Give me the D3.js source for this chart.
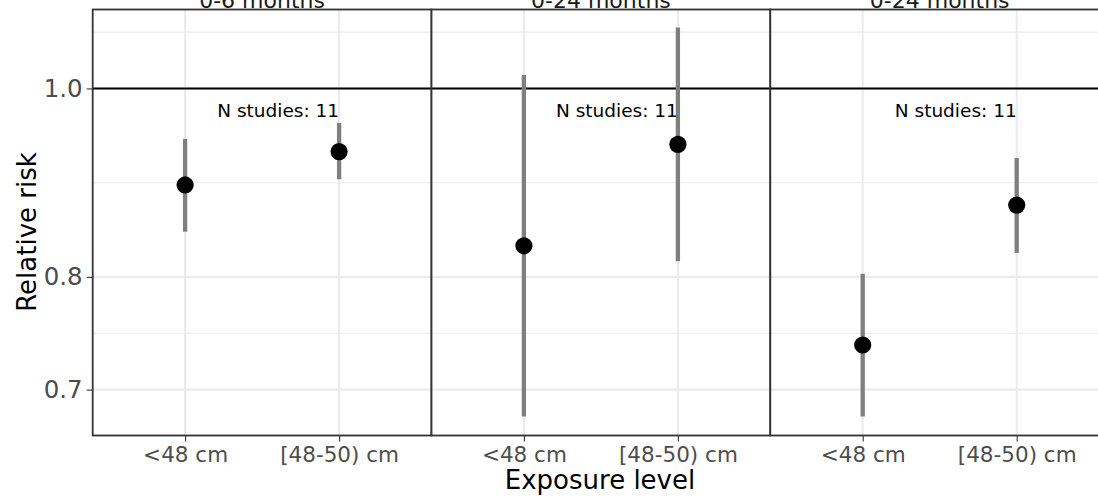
<!DOCTYPE html>
<html>
<head>
<meta charset="utf-8">
<script src="https://cdn.jsdelivr.net/npm/d3@7"></script>
<style>
  html, body { margin: 0; padding: 0; background: #fff; }
  svg { display: block; font-family: "DejaVu Sans", sans-serif; }
</style>
</head>
<body>
<svg id="chart" width="1098" height="498"></svg>
<script>
// ---- data ----
const facets = ["0-6 months", "0-24 months (a)", "0-24 months (b)"];
const facetLabels = ["0-6 months", "0-24 months", "0-24 months"];
const categories = ["<48 cm", "[48-50) cm"];
const estimates = [[0.892, 0.928], [0.830, 0.936], [0.738, 0.871]];
const lowerCI   = [[0.844, 0.898], [0.678, 0.815], [0.678, 0.823]];
const upperCI   = [[0.942, 0.960], [1.016, 1.075], [0.803, 0.921]];
const nStudies  = [11, 11, 11];
const yBreaks = [0.7, 0.8, 1.0];
const yMinorBreaks = [0.7483, 0.8944, 1.0690];
const refLine = 1.0;

// ---- layout ----
const svg = d3.select("#chart");
const panelTop = 9.5, panelBottom = 435.5;
const panelStart = 92.7, panelW = 338.8;

const fx = d3.scaleBand().domain(facets).range([panelStart, panelStart + panelW * facets.length]).padding(0);
const y = d3.scaleLog().domain([0.663, 1.098]).range([panelBottom, panelTop]);

const rows = [];
facets.forEach((f, i) => categories.forEach((c, j) => rows.push({
  facet: f, cat: c, est: estimates[i][j], lo: lowerCI[i][j], hi: upperCI[i][j]
})));

facets.forEach((f, i) => {
  const x0 = fx(f), w = fx.bandwidth();
  const x = d3.scalePoint().domain(categories).range([x0, x0 + w]).padding(0.6);
  const g = svg.append("g");

  g.append("rect").attr("x", x0).attr("y", panelTop).attr("width", w).attr("height", panelBottom - panelTop).attr("fill", "#fff");

  g.selectAll(".ymin").data(yMinorBreaks).join("line")
    .attr("x1", x0).attr("x2", x0 + w).attr("y1", d => y(d)).attr("y2", d => y(d))
    .attr("stroke", "#ebebeb").attr("stroke-width", 1.1);
  g.selectAll(".ymaj").data(yBreaks).join("line")
    .attr("x1", x0).attr("x2", x0 + w).attr("y1", d => y(d)).attr("y2", d => y(d))
    .attr("stroke", "#ebebeb").attr("stroke-width", 2.1);
  g.selectAll(".xmaj").data(categories).join("line")
    .attr("x1", d => x(d)).attr("x2", d => x(d)).attr("y1", panelTop).attr("y2", panelBottom)
    .attr("stroke", "#ebebeb").attr("stroke-width", 2.1);

  g.append("line").attr("x1", x0).attr("x2", x0 + w).attr("y1", y(refLine)).attr("y2", y(refLine))
    .attr("stroke", "#000").attr("stroke-width", 2.1);

  const data = rows.filter(r => r.facet === f);
  g.selectAll(".err").data(data).join("line")
    .attr("x1", d => x(d.cat)).attr("x2", d => x(d.cat))
    .attr("y1", d => y(d.lo)).attr("y2", d => y(d.hi))
    .attr("stroke", "#7f7f7f").attr("stroke-width", 4.3);
  g.selectAll(".pt").data(data).join("circle")
    .attr("cx", d => x(d.cat)).attr("cy", d => y(d.est)).attr("r", 8.6)
    .attr("fill", "#000");

  g.append("text").attr("x", x(categories[1])).attr("y", 117)
    .attr("text-anchor", "end").attr("font-size", 18.5).attr("fill", "#000")
    .text("N studies: " + nStudies[i]);

  g.append("rect").attr("x", x0).attr("y", panelTop).attr("width", w).attr("height", panelBottom - panelTop)
    .attr("fill", "none").attr("stroke", "#333333").attr("stroke-width", 1.8);

  svg.append("text").attr("x", x0 + w / 2).attr("y", 7.5).attr("text-anchor", "middle")
    .attr("font-size", 22).attr("fill", "#1a1a1a").text(facetLabels[i]);

  const xAxis = d3.axisBottom(x).tickSize(6).tickPadding(6);
  const ax = svg.append("g").attr("transform", `translate(0,${panelBottom})`).call(xAxis);
  ax.select(".domain").remove();
  ax.selectAll(".tick line").attr("stroke", "#333333").attr("stroke-width", 1.1);
  ax.selectAll(".tick text").attr("font-size", 21.5).attr("fill", "#4d4d4d")
    .attr("font-family", "DejaVu Sans, sans-serif").attr("dy", "0.71em").attr("y", 11);
});

const yAxis = d3.axisLeft(y).tickValues(yBreaks).tickFormat(d3.format(".1f")).tickSize(6).tickPadding(4);
const ay = svg.append("g").attr("transform", `translate(${panelStart},0)`).call(yAxis);
ay.select(".domain").remove();
ay.selectAll(".tick line").attr("stroke", "#333333").attr("stroke-width", 1.1);
ay.selectAll(".tick text").attr("font-size", 24.5).attr("fill", "#4d4d4d")
  .attr("font-family", "DejaVu Sans, sans-serif");

svg.append("text").attr("transform", "translate(36,232) rotate(-90)")
  .attr("text-anchor", "middle").attr("font-size", 26).attr("fill", "#000").text("Relative risk");
svg.append("text").attr("x", 600).attr("y", 489).attr("text-anchor", "middle")
  .attr("font-size", 26).attr("fill", "#000").text("Exposure level");
</script>
</body>
</html>
